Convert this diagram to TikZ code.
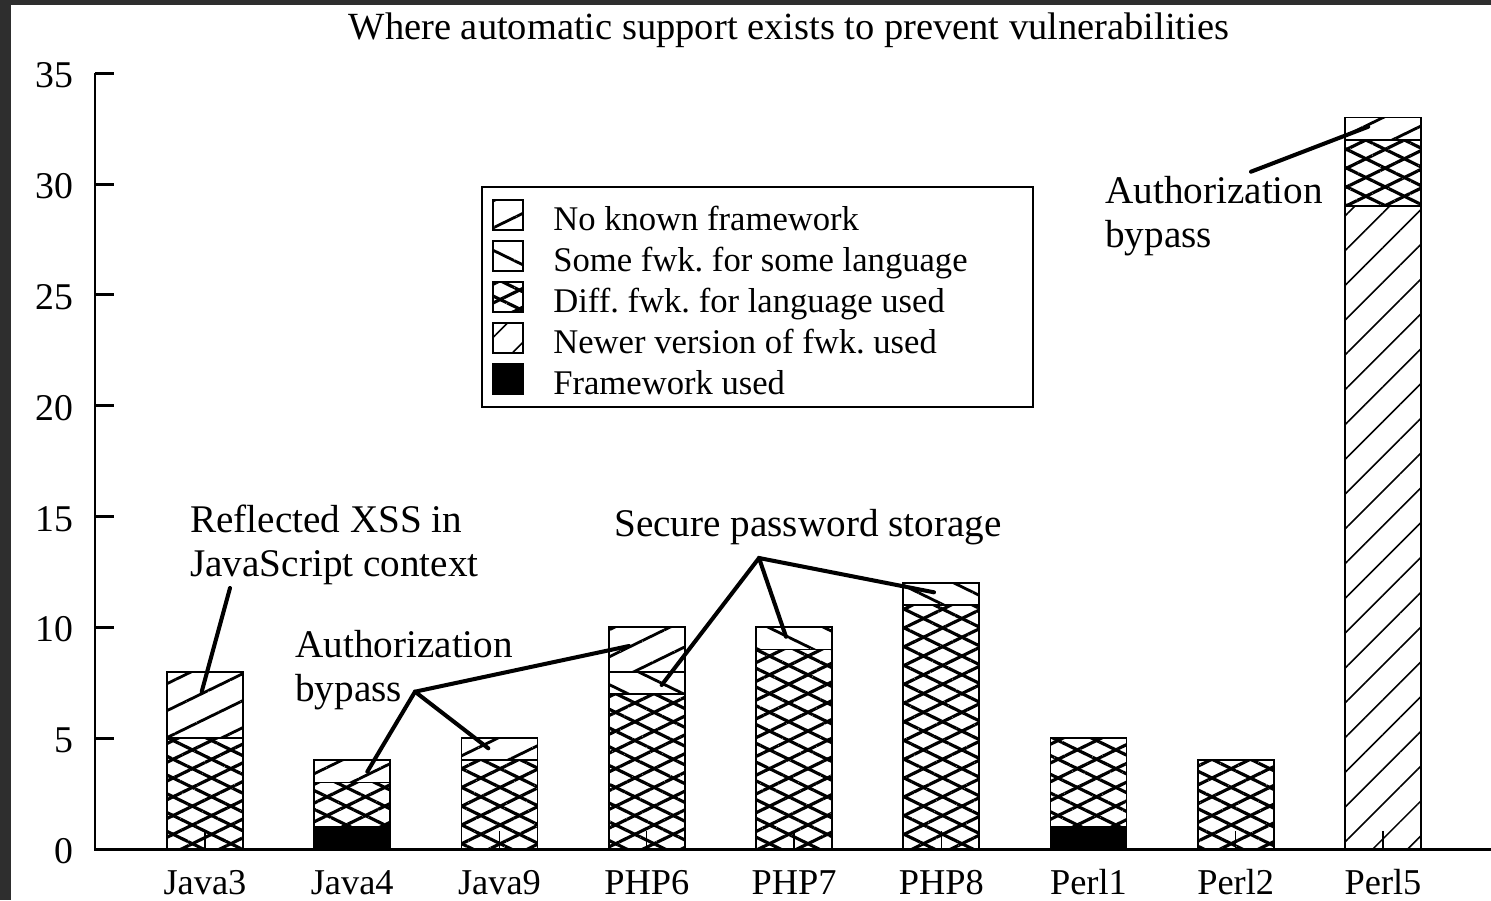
\documentclass[tikz,border=0pt]{standalone}
\usepackage{fontspec}
\setmainfont{Liberation Serif}
\frenchspacing
\usetikzlibrary{patterns.meta}

\tikzset{
  lbl/.style={font=\fontsize{20.7}{24.5}\selectfont, inner sep=0pt},
  ticklbl/.style={font=\fontsize{21.5}{25}\selectfont, inner sep=0pt},
  leglbl/.style={font=\fontsize{19.7}{24}\selectfont, inner sep=0pt},
  notelbl/.style={font=\fontsize{22.3}{25}\selectfont, inner sep=0pt},
  titlelbl/.style={font=\fontsize{21.9}{25}\selectfont, inner sep=0pt},
  bar/.style={draw, line width=1.1pt},
  nofwk/.style={pattern={Lines[angle=26,distance=13.8pt,line width=1.6pt]}},
  somefwk/.style={pattern={Lines[angle=-26,distance=13.8pt,line width=1.6pt]}},
  difffwk/.style={pattern={Lines[angle=26,distance=9.6pt,line width=1.8pt]},
    postaction={pattern={Lines[angle=-26,distance=9.6pt,line width=1.8pt]}}},
  newfwk/.style={pattern={Lines[angle=45,distance=14pt,line width=0.9pt]}},
  usedfwk/.style={fill=black},
  callout/.style={line width=2.3pt, line cap=round},
  axisline/.style={line width=1.7pt}
}

\begin{document}
\begin{tikzpicture}[x=0.02cm, y=-0.02cm]
			%%%%% FRAME %%%%%
			\useasboundingbox (0,0) rectangle (1491,900);
			\fill[black!82] (0,0) rectangle (1491,900);
			\fill[white] (11,5) rectangle (1491,900);
			
			\node[titlelbl, anchor=base] (title) at (789,39) {Where automatic support exists to prevent vulnerabilities};
			
			%%%%% CHART %%%%%
			\begin{scope}[shift={(0,849)}, y=0.4434cm]
				\foreach \i/\lo/\hi/\kind in {0/0/5/difffwk, 0/5/8/nofwk,
					1/0/1/usedfwk, 1/1/3/difffwk, 1/3/4/nofwk,
					2/0/4/difffwk, 2/4/5/nofwk,
					3/0/7/difffwk, 3/7/8/somefwk, 3/8/10/nofwk,
					4/0/9/difffwk, 4/9/10/somefwk,
					5/0/11/difffwk, 5/11/12/somefwk,
					6/0/1/usedfwk, 6/1/5/difffwk,
					7/0/4/difffwk,
					8/0/29/newfwk, 8/29/32/difffwk, 8/32/33/nofwk}
					\draw[bar,\kind] ({205+147.25*\i-38},\lo) rectangle ({205+147.25*\i+38},\hi);
				
				\foreach \i in {0,...,8}
					\draw[line width=0.8pt] ({205+147.25*\i},0) -- ++(0,0.8);
				
				\draw[axisline] (95,35) -- (95,0) -- (1491,0);
				\foreach \v in {0,5,...,35} {
					\draw[axisline] (95,\v) -- (114,\v);
					\node[ticklbl, anchor=east] (ytick\v) at (74,{\v-0.1}) {\v};
				}
				
				\foreach \name [count=\i from 0] in {Java3,Java4,Java9,PHP6,PHP7,PHP8,Perl1,Perl2,Perl5}
					\node[lbl, anchor=base] (x\name) at ({205+147.25*\i},-2.07) {\name};
			\end{scope}
			
			%%%%% LEGEND %%%%%
			\draw[line width=1.1pt] (482,187) rectangle (1033,407);
			\foreach \kind/\txt [count=\k from 0] in {nofwk/No known framework,
				somefwk/Some fwk. for some language, difffwk/Diff. fwk. for language used,
				newfwk/Newer version of fwk. used, usedfwk/Framework used} {
				\draw[bar,\kind] (493,{200+41*\k}) rectangle (523,{230+41*\k});
				\node[leglbl, anchor=base west] (leg\k) at (553,{230+41*\k}) {\txt};
			}
			
			%%%%% CALLOUTS %%%%%
			\node[notelbl, anchor=base west, align=left] (xssnote) at (190,576) {Reflected XSS in\\JavaScript context};
			\node[notelbl, anchor=base west, align=left] (authnoteA) at (295,701) {Authorization\\bypass};
			\node[notelbl, anchor=base west] (pwnote) at (614,536) {Secure password storage};
			\node[notelbl, anchor=base west, align=left] (authnoteB) at (1105,247) {Authorization\\bypass};
			
			\coordinate (xssHub) at (230,588);
			\coordinate (authHub) at (415,691.7);
			\coordinate (pwHub) at (759,558);
			\coordinate (authHubB) at (1251,171.7);
			
			\coordinate (java3top) at (201.7,691.7);
			\coordinate (java4top) at (367.3,771.7);
			\coordinate (java9top) at (488.3,748.3);
			\coordinate (php6top) at (629,646);
			\coordinate (php6mid) at (661.7,685);
			\coordinate (php7top) at (786,636.7);
			\coordinate (php8top) at (934,592.3);
			\coordinate (perl5top) at (1368.3,126.7);
			
			\draw[callout] (xssHub) -- (java3top);
			\draw[callout] (java4top) -- (authHub) -- (php6top);
			\draw[callout] (authHub) -- (java9top);
			\draw[callout] (php6mid) -- (pwHub) -- (php8top);
			\draw[callout] (pwHub) -- (php7top);
			\draw[callout] (authHubB) -- (perl5top);
			
			%%%%% END %%%%%
\end{tikzpicture}
\end{document}
